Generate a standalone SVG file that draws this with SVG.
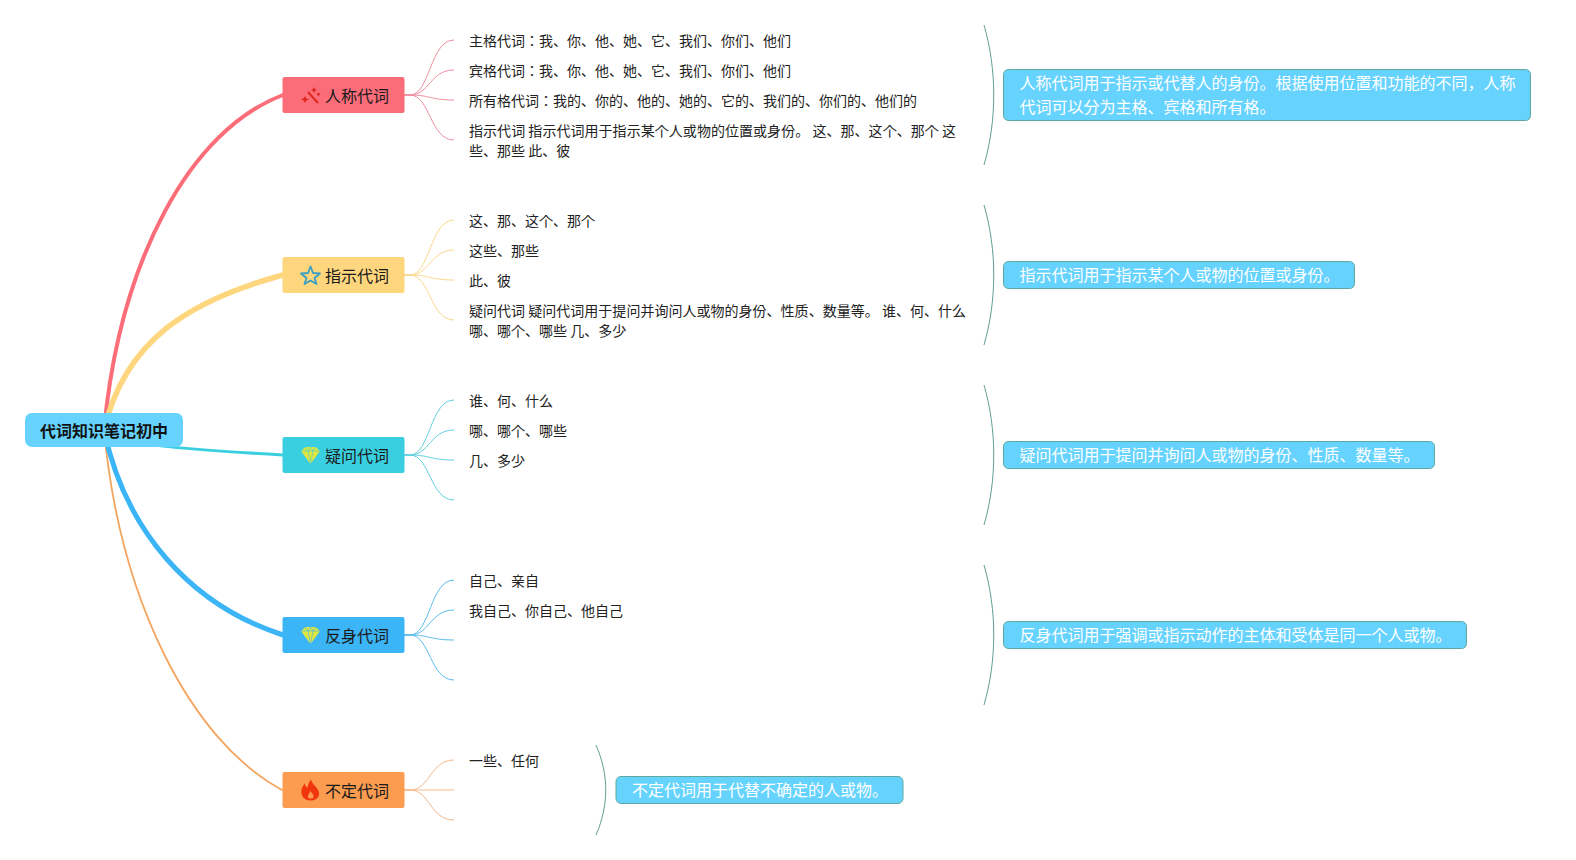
<svg xmlns="http://www.w3.org/2000/svg" width="1576" height="860" viewBox="0 0 1576 860">
<style>
text{font-family:"Noto Sans CJK JP","Noto Sans CJK SC",sans-serif}
.leaf{font-size:14px;fill:#222}
.br{font-size:16px;fill:#1a1a1a}
.note{font-size:16px;fill:#fff}
.rootT{font-size:16px;font-weight:700;fill:#111;text-anchor:middle}
.noteBox{fill:#66d3ff;stroke:#5fa8a0;stroke-width:1}
.c{fill:none;stroke-linecap:round}
.l{fill:none;stroke-width:1}
.brk{fill:none;stroke:#5f9e94;stroke-width:1}
</style>
<g id="connectors">
<path class="c" stroke="#f3a55f" stroke-width="1.800" d="M104,430C120,600 190,740 282,790"/>
<path class="c" stroke="#fc6d7a" stroke-width="4" d="M104,430C120,260 190,130 283,95"/>
<path class="c" stroke="#fdd67e" stroke-width="5.500" d="M104,430C125,340 190,300 283,275"/>
<path class="c" stroke="#3acfe0" stroke-width="3" d="M104,430C120,445 180,449 283,455"/>
<path class="c" stroke="#3cb5f7" stroke-width="5" d="M104,430C125,530 190,605 283,635"/>
<g class="l" stroke="#f08ea0">
<path d="M404,95H410C430,95 430,40 454,40"/><path d="M404,95H410C430,95 430,70 454,70"/><path d="M404,95H410C430,95 430,100 454,100"/><path d="M404,95H410C430,95 430,140 454,140"/>
</g>
<g class="l" stroke="#fbd88a">
<path d="M404,275H410C430,275 430,220 454,220"/><path d="M404,275H410C430,275 430,250 454,250"/><path d="M404,275H410C430,275 430,280 454,280"/><path d="M404,275H410C430,275 430,320 454,320"/>
</g>
<g class="l" stroke="#62cfe2">
<path d="M404,455H410C430,455 430,400 454,400"/><path d="M404,455H410C430,455 430,430 454,430"/><path d="M404,455H410C430,455 430,460 454,460"/><path d="M404,455H410C430,455 430,500 454,500"/>
</g>
<g class="l" stroke="#5cbcec">
<path d="M404,635H410C430,635 430,580 454,580"/><path d="M404,635H410C430,635 430,610 454,610"/><path d="M404,635H410C430,635 430,640 454,640"/><path d="M404,635H410C430,635 430,680 454,680"/>
</g>
<g class="l" stroke="#f6b88a">
<path d="M404,790H410C430,790 430,760 454,760"/><path d="M404,790H454"/><path d="M404,790H410C430,790 430,820 454,820"/>
</g>
<path class="brk" d="M984,25C997,70 997,120 984,165"/>
<path class="brk" d="M984,205C997,250 997,300 984,345"/>
<path class="brk" d="M984,385C997,430 997,480 984,525"/>
<path class="brk" d="M984,565C997,610 997,660 984,705"/>
<path class="brk" d="M596,745C609,775 609,805 596,835"/>
</g>
<g id="root"><rect x="25" y="413" width="158" height="34" rx="7" fill="#66d3ff"/><text class="rootT" x="104" y="437">代词知识笔记初中</text></g>
<g id="n1"><rect x="282.500" y="77" width="122" height="36" rx="2" fill="#fc6d7a"/>
<path d="M308,92L318,103" stroke="#e0281e" stroke-width="2" fill="none"/><path d="M305,96l1.500,2.500 2.500,1 -2.500,1 -1.500,2.500 -1.500,-2.500 -2.500,-1 2.500,-1z M314,87l1,2 2,1 -2,1 -1,2 -1,-2 -2,-1 2,-1z M318.500,92l.8,1.500 1.500,.8 -1.500,.8 -.8,1.500 -.8,-1.500 -1.500,-.8 1.500,-.8z" fill="#e0281e"/>
<text class="br" x="325" y="102">人称代词</text></g>
<g id="n2"><rect x="282.500" y="257" width="122" height="36" rx="2" fill="#fdd67e"/>
<path d="M310.500,266.500L313,273 320,273.500 314.500,278 316.500,284 310.500,280.500 304.500,284 306.500,278 301,273.500 308,273z" fill="none" stroke="#3a9fc4" stroke-width="1.800" stroke-linejoin="round"/>
<text class="br" x="325" y="282">指示代词</text></g>
<g id="n3"><rect x="282.500" y="437" width="122" height="36" rx="2" fill="#3acfe0"/>
<path d="M301,451L305.500,447H315.500L320,451 310.500,464z" fill="#dfe63e"/><path d="M301,451H320M305.500,447L308,451 310.500,464 313,451 315.500,447M308,451L310.500,447 313,451" stroke="#3acfe0" stroke-width=".6" fill="none"/>
<text class="br" x="325" y="462">疑问代词</text></g>
<g id="n4"><rect x="282.500" y="617" width="122" height="36" rx="2" fill="#3cb5f7"/>
<path d="M301,631L305.500,627H315.500L320,631 310.500,644z" fill="#dfe63e"/><path d="M301,631H320M305.500,627L308,631 310.500,644 313,631 315.500,627M308,631L310.500,627 313,631" stroke="#3cb5f7" stroke-width=".6" fill="none"/>
<text class="br" x="325" y="642">反身代词</text></g>
<g id="n5"><rect x="282.500" y="772" width="122" height="36" rx="2" fill="#fb9c50"/>
<path d="M311,779.500C312,784 316,786 318,790C321,795 317.500,800.500 311,800.500C304.500,800.500 300.500,796 301.500,790C302,787 303.500,785.500 304.500,783.500C305.500,785.500 306,787 307.500,787.500C308,785 309,782 311,779.500ZM310.500,791C309,794 307.500,795 308,797C308.500,799 313,799 313.500,797C314,795 312,793.500 310.500,791Z" fill="#f0350f" fill-rule="evenodd"/>
<text class="br" x="325" y="797">不定代词</text></g>
<g id="l1">
<text class="leaf" x="469" y="46">主格代词：我、你、他、她、它、我们、你们、他们</text>
<text class="leaf" x="469" y="76">宾格代词：我、你、他、她、它、我们、你们、他们</text>
<text class="leaf" x="469" y="106">所有格代词：我的、你的、他的、她的、它的、我们的、你们的、他们的</text>
<text class="leaf" x="469" y="136" textLength="487" lengthAdjust="spacing">指示代词 指示代词用于指示某个人或物的位置或身份。 这、那、这个、那个 这</text>
<text class="leaf" x="469" y="156">些、那些 此、彼</text>
</g>
<g id="l2">
<text class="leaf" x="469" y="226">这、那、这个、那个</text>
<text class="leaf" x="469" y="256">这些、那些</text>
<text class="leaf" x="469" y="286">此、彼</text>
<text class="leaf" x="469" y="316" textLength="497" lengthAdjust="spacing">疑问代词 疑问代词用于提问并询问人或物的身份、性质、数量等。 谁、何、什么</text>
<text class="leaf" x="469" y="336">哪、哪个、哪些 几、多少</text>
</g>
<g id="l3">
<text class="leaf" x="469" y="406">谁、何、什么</text>
<text class="leaf" x="469" y="436">哪、哪个、哪些</text>
<text class="leaf" x="469" y="466">几、多少</text>
</g>
<g id="l4">
<text class="leaf" x="469" y="586">自己、亲自</text>
<text class="leaf" x="469" y="616">我自己、你自己、他自己</text>
</g>
<g id="l5"><text class="leaf" x="469" y="766">一些、任何</text></g>
<g id="s1"><rect class="noteBox" x="1003.500" y="69.500" width="527" height="51" rx="5"/>
<text class="note" x="1019.500" y="89">人称代词用于指示或代替人的身份。根据使用位置和功能的不同，人称</text>
<text class="note" x="1019.500" y="113">代词可以分为主格、宾格和所有格。</text></g>
<g id="s2"><rect class="noteBox" x="1003.500" y="261.500" width="351" height="27" rx="5"/><text class="note" x="1019.500" y="281">指示代词用于指示某个人或物的位置或身份。</text></g>
<g id="s3"><rect class="noteBox" x="1003.500" y="441.500" width="431" height="27" rx="5"/><text class="note" x="1019.500" y="461">疑问代词用于提问并询问人或物的身份、性质、数量等。</text></g>
<g id="s4"><rect class="noteBox" x="1003.500" y="621.500" width="463" height="27" rx="5"/><text class="note" x="1019.500" y="641">反身代词用于强调或指示动作的主体和受体是同一个人或物。</text></g>
<g id="s5"><rect class="noteBox" x="616" y="776.500" width="287" height="27" rx="5"/><text class="note" x="632" y="796">不定代词用于代替不确定的人或物。</text></g>
</svg>
